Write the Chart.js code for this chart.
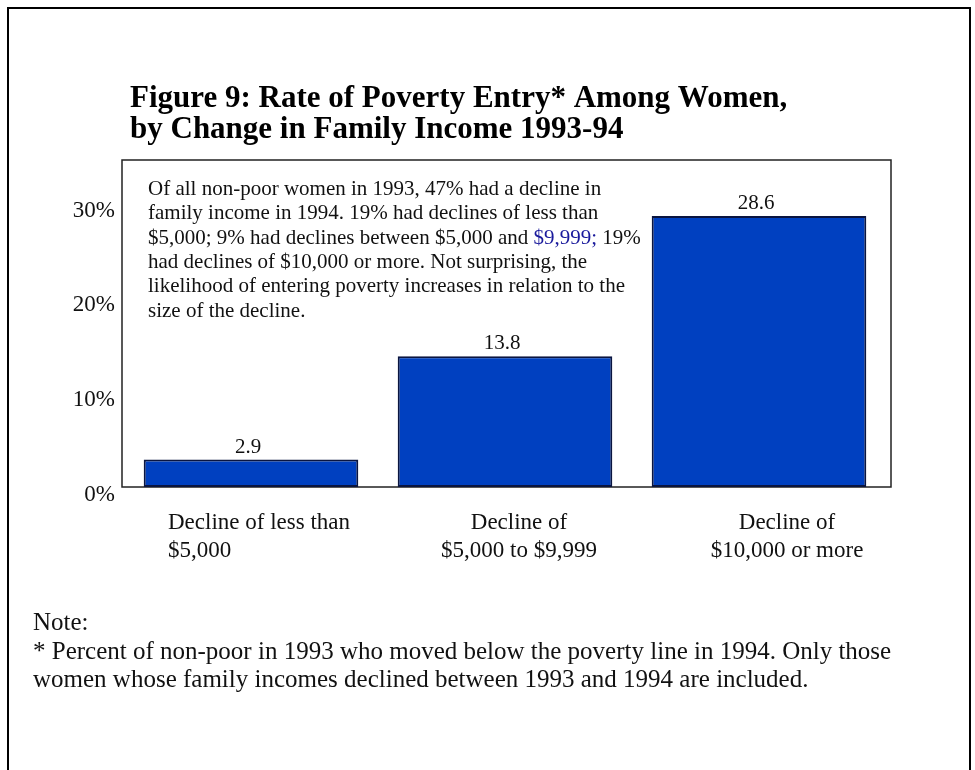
<!DOCTYPE html>
<html>
<head>
<meta charset="utf-8">
<script src="https://cdn.jsdelivr.net/npm/chart.js@4"></script>
<style>
    html, body { margin: 0; padding: 0; background: #fff; }
    #wrap { width: 975px; height: 770px; position: relative; }
</style>
</head>
<body>
<div id="wrap"><canvas id="entryChart"></canvas></div>
<script>
// categories and values
const categories = [
    ['Decline of less than', '$5,000'],
    ['Decline of', '$5,000 to $9,999'],
    ['Decline of', '$10,000 or more']
];
const entryRates = [2.9, 13.8, 28.6];
const yTicks = [0, 10, 20, 30];

const titleLines = [
    'Figure 9: Rate of Poverty Entry* Among Women,',
    'by Change in Family Income 1993-94'
];
// each line is a list of [text, highlighted]
const insetLines = [
    [['Of all non-poor women in 1993, 47% had a decline in', false]],
    [['family income in 1994. 19% had declines of less than', false]],
    [['$5,000; 9% had declines between $5,000 and ', false], ['$9,999;', true], [' 19%', false]],
    [['had declines of $10,000 or more. Not surprising, the', false]],
    [['likelihood of entering poverty increases in relation to the', false]],
    [['size of the decline.', false]]
];
const noteLines = [
    'Note:',
    '* Percent of non-poor in 1993 who moved below the poverty line in 1994. Only those',
    'women whose family incomes declined between 1993 and 1994 are included.'
];

const SERIF = "'Liberation Serif', 'Times New Roman', serif";

document.addEventListener('DOMContentLoaded', () => {
    const decorations = {
        id: 'decorations',
        beforeDatasetsDraw(chart) {
            const { ctx, chartArea: a } = chart;
            ctx.save();
            // plot frame, a little wider than the category band
            ctx.strokeStyle = '#222';
            ctx.lineWidth = 1.5;
            ctx.strokeRect(a.left - 2, a.top, a.right - a.left + 7, a.bottom - a.top);
            ctx.restore();
        },
        afterDraw(chart) {
            const { ctx, chartArea: a } = chart;
            const x = chart.scales.x;
            ctx.save();

            // outer page frame
            ctx.strokeStyle = '#000';
            ctx.lineWidth = 2;
            ctx.beginPath();
            ctx.moveTo(8, 780);
            ctx.lineTo(8, 8);
            ctx.lineTo(970, 8);
            ctx.lineTo(970, 780);
            ctx.stroke();

            // title
            ctx.fillStyle = '#000';
            ctx.textBaseline = 'alphabetic';
            ctx.textAlign = 'left';
            ctx.font = 'bold 31px ' + SERIF;
            titleLines.forEach((t, i) => ctx.fillText(t, 130, 107 + i * 31));

            // explanatory text inside the plot
            ctx.font = '21px ' + SERIF;
            insetLines.forEach((segs, i) => {
                let cx = 148;
                segs.forEach(([t, hi]) => {
                    ctx.fillStyle = hi ? '#1a1a9c' : '#111';
                    ctx.fillText(t, cx, 195 + i * 24.3);
                    cx += ctx.measureText(t).width;
                });
            });

            // value labels above bars
            ctx.fillStyle = '#111';
            ctx.textAlign = 'center';
            ctx.font = '21px ' + SERIF;
            chart.getDatasetMeta(0).data.forEach((bar, i) => {
                ctx.fillText(entryRates[i].toFixed(1), bar.x - 3, bar.y - 7);
            });

            // category labels
            ctx.font = '23px ' + SERIF;
            const shifts = [-83, 14, 28];
            const aligns = ['left', 'center', 'center'];
            categories.forEach((lines, i) => {
                const cx = x.getPixelForValue(i) + shifts[i];
                ctx.textAlign = aligns[i];
                lines.forEach((t, j) => ctx.fillText(t, cx, a.bottom + 42 + j * 28));
            });

            // note
            ctx.textAlign = 'left';
            ctx.font = '25px ' + SERIF;
            noteLines.forEach((t, i) => ctx.fillText(t, 33, 630 + i * 28.5));

            ctx.restore();
        }
    };

    const ctx = document.getElementById('entryChart').getContext('2d');
    new Chart(ctx, {
        type: 'bar',
        data: {
            labels: categories,
            datasets: [{
                data: entryRates,
                backgroundColor: '#0040C0',
                borderColor: '#0a1540',
                borderWidth: 2,
                borderSkipped: false,
                barPercentage: 0.845,
                categoryPercentage: 1
            }]
        },
        options: {
            responsive: true,
            maintainAspectRatio: false,
            animation: false,
            layout: {
                padding: { top: 160, right: 89, left: 0, bottom: 0 }
            },
            scales: {
                x: {
                    grid: { display: false, drawTicks: false },
                    border: { display: false },
                    ticks: { display: false },
                    afterFit: (scale) => { scale.height = 283; }
                },
                y: {
                    min: 0,
                    max: 34.5,
                    afterBuildTicks: (scale) => {
                        scale.ticks = yTicks.map(v => ({ value: v }));
                    },
                    grid: { display: false, drawTicks: false },
                    border: { display: false },
                    ticks: {
                        padding: 9,
                        labelOffset: 8,
                        color: '#111',
                        font: { family: SERIF, size: 23 },
                        callback: (v) => v + '%'
                    },
                    afterFit: (scale) => { scale.width = 124; }
                }
            },
            plugins: {
                legend: { display: false },
                tooltip: { enabled: false }
            }
        },
        plugins: [decorations]
    });
});
</script>
</body>
</html>
